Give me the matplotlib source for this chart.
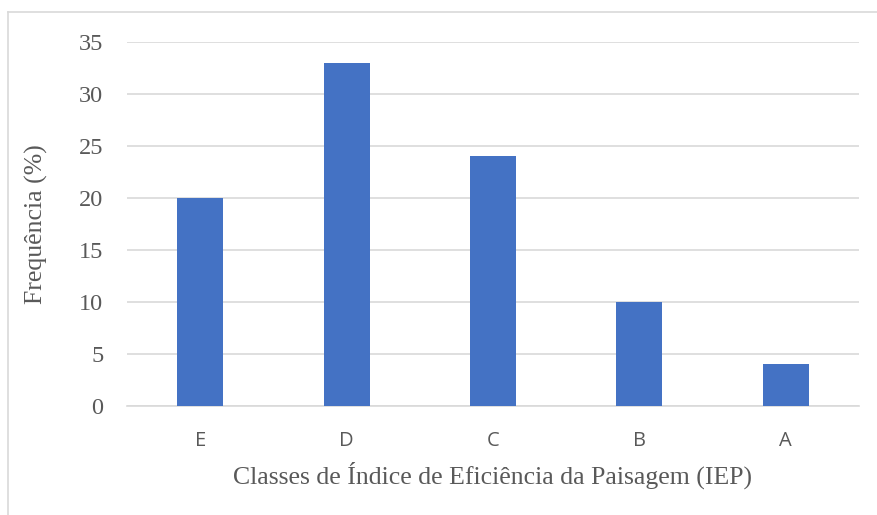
import matplotlib
matplotlib.use("Agg")
import matplotlib.pyplot as plt
from matplotlib.lines import Line2D

categories = ["E", "D", "C", "B", "A"]
values = [20, 33, 24, 10, 4]
yticks = [0, 5, 10, 15, 20, 25, 30, 35]

W, H = 877, 515
fig = plt.figure(figsize=(W / 100, H / 100), dpi=100)
ax = fig.add_axes([127 / W, 1 - 406 / H, (859 - 127) / W, (406 - 42) / H])

x = list(range(len(categories)))
ax.bar(x, values, width=0.315, color="#4472C4", zorder=3)
ax.set_xlim(-0.5, len(categories) - 0.5)
ax.set_ylim(0, 35)
ax.set_yticks(yticks)
ax.set_yticklabels([str(t) for t in yticks], family="Liberation Serif", fontsize=17.5, color="#595959")
ax.set_xticks(x)
ax.set_xticklabels(categories, family="Open Sans", fontsize=14.5, color="#595959")
ax.tick_params(axis="both", length=0)
ax.tick_params(axis="y", pad=17)
ax.tick_params(axis="x", pad=18)
ax.grid(axis="y", color="#D9D9D9", linewidth=1.2, zorder=0)
for s in ["top", "right", "left"]:
    ax.spines[s].set_visible(False)
ax.spines["bottom"].set_color("#D9D9D9")
ax.spines["bottom"].set_linewidth(1.2)

ax.set_ylabel("Frequência (%)", family="Liberation Serif", fontsize=18.5, color="#595959")
ax.set_xlabel("Classes de Índice de Eficiência da Paisagem (IEP)", family="Liberation Serif",
              fontsize=18.5, color="#595959")
ax.yaxis.set_label_coords((36 - 127) / (859 - 127), 0.5)
ax.xaxis.set_label_coords(0.5, -(475 - 406) / (406 - 42))
ax.xaxis.label.set_va("center")
ax.yaxis.label.set_va("center")

# chart frame (left and top edges visible)
fig.add_artist(Line2D([8 / W, 8 / W], [0, 1 - 12 / H], transform=fig.transFigure, color="#D9D9D9", linewidth=1.2))
fig.add_artist(Line2D([8 / W, 1], [1 - 12 / H, 1 - 12 / H], transform=fig.transFigure, color="#D9D9D9", linewidth=1.2))

fig.savefig("out.png", dpi=100)
